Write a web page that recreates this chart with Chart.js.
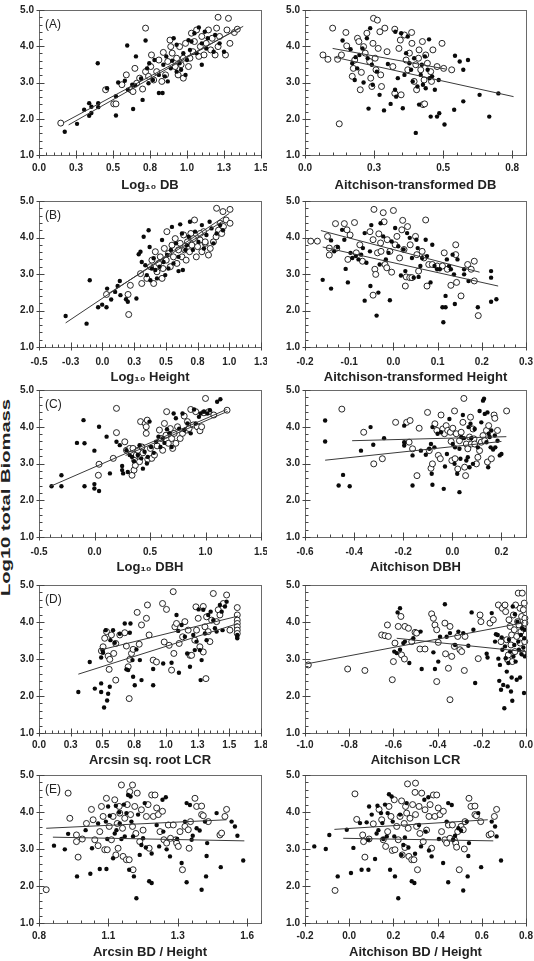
<!DOCTYPE html>
<html>
<head>
<meta charset="utf-8">
<title>Log10 total biomass vs. predictors</title>
<script src="https://cdn.jsdelivr.net/npm/chart.js@4.4.1/dist/chart.umd.min.js"></script>
<style>
  body { margin: 0; background: #fff; width: 534px; height: 961px; position: relative; overflow: hidden; }
  canvas { position: absolute; }
  #ytitle {
    position: absolute; left: -95px; top: 490px; width: 200px; line-height: 14px;
    text-align: center; font: bold 13px "Liberation Sans", Arial, sans-serif; color: #222;
    transform: rotate(-90deg) scaleX(1.55);
  }
</style>
</head>
<body>
<div id="ytitle">Log10 total Biomass</div>
<canvas id="aLeft"></canvas><canvas id="aRight"></canvas>
<canvas id="bLeft"></canvas><canvas id="bRight"></canvas>
<canvas id="cLeft"></canvas><canvas id="cRight"></canvas>
<canvas id="dLeft"></canvas><canvas id="dRight"></canvas>
<canvas id="eLeft"></canvas><canvas id="eRight"></canvas>
<script>
// ---- shared y axis ----
const yTicks = [1, 2, 3, 4, 5];
const yTickLabels = ['1.0', '2.0', '3.0', '4.0', '5.0'];

// ---- (A) Log10 DB ----
const dbTicks = [0, 0.25, 0.5, 0.75, 1, 1.25, 1.5];
const dbTickLabels = ['0.0', '0.3', '0.5', '0.8', '1.0', '1.3', '1.5'];
const dbFilled = [[0.174,1.64],[0.257,1.86],[0.305,2.25],[0.339,2.43],[0.339,2.08],[0.354,2.16],[0.354,2.33],[0.40,2.43],[0.40,2.32],[0.397,3.53],[0.46,2.84],[0.52,2.09],[0.535,3.0],[0.52,2.62],[0.596,4.02],[0.58,3.05],[0.60,2.80],[0.63,2.94],[0.636,2.27],[0.655,3.72],[0.65,2.92],[0.70,2.52],[0.69,3.11],[0.72,4.16],[0.73,3.39],[0.74,2.98],[0.745,3.53],[0.77,3.07],[0.78,3.62],[0.81,3.21],[0.81,2.71],[0.835,2.71],[0.84,3.49],[0.85,3.17],[0.86,3.72],[0.87,3.03],[0.89,3.39],[0.90,3.60],[0.93,4.04],[0.93,3.30],[0.95,3.53],[0.96,3.35],[0.975,3.81],[0.99,3.21],[1.0,3.62],[1.02,3.9],[1.03,4.13],[1.05,4.36],[1.065,3.81],[1.08,4.52],[1.10,3.49],[1.10,4.08],[1.12,4.40],[1.13,3.94],[1.14,4.22],[1.18,3.85],[1.19,4.31],[1.22,4.08],[1.25,3.85],[1.01,4.17],[0.91,4.22]];
const dbOpen = [[0.147,1.88],[0.45,2.80],[0.505,2.41],[0.52,2.41],[0.59,3.21],[0.56,2.94],[0.62,2.80],[0.635,2.75],[0.648,3.39],[0.66,2.98],[0.68,3.12],[0.72,4.50],[0.70,2.82],[0.72,3.30],[0.74,3.17],[0.755,3.44],[0.76,3.76],[0.775,3.07],[0.795,3.30],[0.81,3.62],[0.83,3.03],[0.84,3.83],[0.855,3.21],[0.87,3.58],[0.885,4.17],[0.89,3.99],[0.90,3.81],[0.92,3.44],[0.93,3.67],[0.95,3.99],[0.96,3.49],[0.975,3.67],[0.99,4.08],[1.01,3.44],[1.02,3.67],[1.03,4.36],[1.04,3.85],[1.05,4.13],[1.065,4.45],[1.08,3.72],[1.09,3.99],[1.10,4.27],[1.115,3.76],[1.13,4.08],[1.145,4.45],[1.16,3.90],[1.17,4.22],[1.19,3.76],[1.20,4.50],[1.21,3.99],[1.22,4.27],[1.21,4.80],[1.28,4.77],[1.29,4.08],[1.27,4.45],[1.32,4.38],[1.34,4.47],[1.26,3.76],[0.975,3.12],[0.94,3.21]];
const dbLines = [[[0.17,1.90],[1.38,4.55]], [[0.20,1.83],[1.35,4.50]]];

// ---- Aitchison-transformed DB ----
const aitDbTicks = [0, 0.25, 0.5, 0.75];
const aitDbTickLabels = ['0.0', '0.3', '0.5', '0.8'];
const aitDbFilled = [[0.136,4.16],[0.165,3.92],[0.171,3.53],[0.18,3.07],[0.183,3.70],[0.189,3.39],[0.197,3.76],[0.208,3.94],[0.212,3.0],[0.224,4.22],[0.227,3.67],[0.23,2.28],[0.236,4.50],[0.242,3.49],[0.245,2.94],[0.26,3.30],[0.27,2.66],[0.286,2.23],[0.30,3.51],[0.31,2.41],[0.326,2.80],[0.327,4.40],[0.33,2.61],[0.336,3.12],[0.348,4.36],[0.354,2.29],[0.36,3.21],[0.366,3.81],[0.372,4.27],[0.378,3.53],[0.384,3.35],[0.39,3.03],[0.395,3.67],[0.401,1.61],[0.407,2.89],[0.413,2.39],[0.419,3.21],[0.423,3.49],[0.427,2.94],[0.434,3.72],[0.437,2.84],[0.444,3.35],[0.449,4.19],[0.451,3.12],[0.455,2.06],[0.46,3.17],[0.47,2.80],[0.478,2.06],[0.486,2.15],[0.505,1.84],[0.484,3.07],[0.543,3.74],[0.54,2.25],[0.56,3.58],[0.573,3.35],[0.573,2.48],[0.59,3.62],[0.632,2.66],[0.667,2.06],[0.70,2.70]];
const aitDbOpen = [[0.10,4.50],[0.124,1.86],[0.118,3.64],[0.132,3.76],[0.148,4.38],[0.151,4.01],[0.171,3.17],[0.175,3.39],[0.18,3.62],[0.19,4.22],[0.195,4.13],[0.20,2.80],[0.204,3.28],[0.212,3.99],[0.218,3.81],[0.224,4.36],[0.234,3.58],[0.238,3.12],[0.242,2.89],[0.246,4.08],[0.248,4.77],[0.254,3.67],[0.257,3.35],[0.262,4.72],[0.265,3.94],[0.271,4.40],[0.274,3.21],[0.277,2.89],[0.289,4.50],[0.297,3.85],[0.318,3.44],[0.325,2.70],[0.325,4.47],[0.34,3.94],[0.345,4.17],[0.348,2.66],[0.36,4.31],[0.366,3.62],[0.372,3.35],[0.378,3.81],[0.386,4.38],[0.387,4.08],[0.395,3.03],[0.401,3.49],[0.404,2.80],[0.411,3.67],[0.413,3.90],[0.419,3.35],[0.425,4.13],[0.427,2.39],[0.433,2.41],[0.431,3.07],[0.437,3.76],[0.443,3.53],[0.455,3.30],[0.458,3.03],[0.463,3.90],[0.478,3.44],[0.496,4.08],[0.502,3.39],[0.531,3.35],[0.065,3.76],[0.083,3.64]];
const aitDbLines = [[[0.10,3.94],[0.51,3.37]], [[0.106,3.70],[0.755,2.61]]];

// ---- (B) Log10 Height ----
const htTicks = [-0.5, -0.25, 0, 0.25, 0.5, 0.75, 1, 1.25];
const htTickLabels = ['-0.5', '-0.3', '0.0', '0.3', '0.5', '0.8', '1.0', '1.3'];
const htFilled = [[-0.29,1.85],[-0.125,1.64],[-0.10,2.83],[-0.034,2.09],[-0.002,2.16],[0.032,2.09],[0.037,2.60],[0.069,2.30],[0.10,2.51],[0.12,2.67],[0.137,2.81],[0.142,2.42],[0.186,2.31],[0.20,2.24],[0.268,2.33],[0.286,3.54],[0.30,3.61],[0.31,3.33],[0.325,4.02],[0.338,3.24],[0.35,2.97],[0.364,4.20],[0.372,3.74],[0.378,2.83],[0.39,3.15],[0.404,3.43],[0.417,3.11],[0.43,2.88],[0.45,3.20],[0.47,3.93],[0.482,3.33],[0.495,2.97],[0.51,3.52],[0.52,3.15],[0.54,3.66],[0.548,4.29],[0.56,3.29],[0.58,3.84],[0.60,3.47],[0.613,4.36],[0.627,4.11],[0.634,3.11],[0.653,3.66],[0.666,3.79],[0.68,4.02],[0.69,4.43],[0.713,3.66],[0.73,4.16],[0.757,3.88],[0.784,4.34],[0.80,3.70],[0.82,4.07],[0.845,4.43],[0.86,4.25],[0.875,3.84],[0.90,4.11],[0.928,4.34],[0.95,4.20],[0.60,3.08]];
const htOpen = [[0.207,1.89],[0.032,2.44],[0.202,2.44],[0.22,2.69],[0.30,3.01],[0.31,2.74],[0.35,2.88],[0.378,3.20],[0.39,3.38],[0.404,2.74],[0.417,3.61],[0.43,3.06],[0.443,3.29],[0.456,3.47],[0.47,2.88],[0.477,3.15],[0.488,3.70],[0.503,3.38],[0.508,4.16],[0.52,3.56],[0.535,3.20],[0.548,3.79],[0.56,3.47],[0.574,3.97],[0.587,3.29],[0.60,3.66],[0.613,3.84],[0.627,3.47],[0.64,4.07],[0.648,3.66],[0.66,3.38],[0.67,3.88],[0.687,3.61],[0.697,4.11],[0.705,3.79],[0.718,3.97],[0.726,4.48],[0.74,3.47],[0.75,3.75],[0.77,3.93],[0.784,3.61],[0.797,4.16],[0.81,3.84],[0.836,3.52],[0.85,3.70],[0.875,3.88],[0.896,4.02],[0.915,4.20],[0.928,4.39],[0.94,4.11],[0.954,4.30],[0.975,4.48],[1.006,4.39],[0.90,4.80],[0.95,4.71],[1.006,4.77],[0.81,3.88],[0.77,4.11]];
const htLines = [[[-0.29,1.66],[1.0,4.66]], [[0.05,2.47],[0.95,4.45]]];

// ---- Aitchison-transformed Height ----
const aitHtTicks = [-0.2, -0.1, 0, 0.1, 0.2, 0.3];
const aitHtTickLabels = ['-0.2', '-0.1', '0.0', '0.1', '0.2', '0.3'];
const aitHtFilled = [[-0.16,2.84],[-0.141,2.60],[-0.141,3.92],[-0.134,3.62],[-0.126,3.74],[-0.116,4.21],[-0.111,3.94],[-0.108,3.14],[-0.103,2.77],[-0.097,3.58],[-0.093,3.44],[-0.085,3.49],[-0.079,3.40],[-0.073,3.53],[-0.069,3.71],[-0.065,4.12],[-0.065,2.27],[-0.061,3.31],[-0.053,3.62],[-0.052,2.67],[-0.05,4.34],[-0.038,1.86],[-0.034,2.49],[-0.031,3.26],[-0.029,4.39],[-0.023,4.03],[-0.017,3.40],[-0.011,3.58],[-0.008,2.28],[-0.004,3.89],[0.004,4.26],[0.011,3.76],[0.017,2.96],[0.023,3.67],[0.027,3.08],[0.031,4.12],[0.037,3.99],[0.042,3.44],[0.046,2.90],[0.052,3.94],[0.055,3.71],[0.057,2.92],[0.061,3.22],[0.065,3.44],[0.073,3.94],[0.076,3.49],[0.084,2.77],[0.088,3.80],[0.093,3.22],[0.099,3.13],[0.105,3.13],[0.111,2.09],[0.113,1.68],[0.118,2.40],[0.118,2.09],[0.121,3.40],[0.126,3.22],[0.13,3.13],[0.134,3.53],[0.137,2.99],[0.139,2.18],[0.145,3.40],[0.16,2.99],[0.16,3.13],[0.17,2.81],[0.191,2.09],[0.221,3.08],[0.221,2.90],[0.221,2.24],[0.233,2.31]];
const aitHtOpen = [[-0.187,3.90],[-0.172,3.90],[-0.149,4.03],[-0.145,3.71],[-0.131,4.38],[-0.145,3.52],[-0.128,3.71],[-0.111,4.38],[-0.105,4.21],[-0.103,3.40],[-0.098,4.07],[-0.088,4.41],[-0.084,3.58],[-0.076,3.80],[-0.07,3.35],[-0.053,4.16],[-0.046,2.42],[-0.046,3.94],[-0.044,4.77],[-0.042,3.13],[-0.04,2.99],[-0.036,3.58],[-0.033,4.10],[-0.029,3.85],[-0.028,3.62],[-0.023,4.68],[-0.021,4.43],[-0.019,3.26],[-0.015,3.17],[-0.014,3.94],[-0.008,3.62],[-0.004,3.05],[0.0,4.74],[0.004,3.80],[0.008,4.03],[0.014,3.44],[0.019,4.21],[0.021,4.47],[0.024,3.67],[0.027,2.67],[0.029,2.92],[0.032,4.30],[0.037,2.90],[0.038,3.80],[0.042,2.90],[0.05,4.03],[0.053,3.53],[0.057,3.08],[0.065,3.62],[0.069,3.44],[0.073,4.48],[0.076,2.67],[0.08,3.26],[0.088,3.26],[0.099,3.22],[0.111,3.22],[0.115,3.58],[0.122,3.13],[0.13,2.69],[0.141,3.80],[0.141,3.53],[0.143,2.77],[0.153,2.40],[0.168,3.26],[0.176,3.13],[0.183,3.35],[0.192,1.86],[0.183,2.81]];
const aitHtLines = [[[-0.164,4.19],[0.195,3.05]], [[-0.16,3.74],[0.237,2.67]]];

// ---- (C) Log10 DBH ----
const dbhTicks = [-0.5, 0, 0.5, 1, 1.5];
const dbhTickLabels = ['-0.5', '0.0', '0.5', '1.0', '1.5'];
const dbhFilled = [[-0.387,2.38],[-0.298,2.68],[-0.298,2.38],[-0.158,3.56],[-0.099,4.18],[-0.09,3.55],[-0.09,2.38],[-0.001,3.35],[-0.001,2.44],[-0.001,2.32],[0.041,4.0],[0.041,2.25],[0.109,3.73],[0.139,2.73],[0.198,3.59],[0.228,3.50],[0.249,2.93],[0.249,2.82],[0.258,2.73],[0.288,3.36],[0.30,2.77],[0.317,3.23],[0.338,3.18],[0.356,3.06],[0.39,3.23],[0.406,3.50],[0.421,3.14],[0.436,2.86],[0.451,3.32],[0.472,3.0],[0.48,3.18],[0.496,4.14],[0.51,3.45],[0.534,3.29],[0.555,3.59],[0.576,3.73],[0.594,3.45],[0.614,3.68],[0.63,3.56],[0.653,3.93],[0.674,3.82],[0.695,3.45],[0.713,4.36],[0.733,4.23],[0.763,3.95],[0.793,4.36],[0.808,3.91],[0.837,4.09],[0.867,3.82],[0.897,4.47],[0.912,4.09],[0.941,4.27],[0.956,4.36],[0.986,4.41],[1.016,4.36],[1.04,4.45],[1.105,4.68],[1.134,4.75]];
const dbhOpen = [[0.035,2.68],[0.041,2.98],[0.198,4.50],[0.198,3.84],[0.169,3.14],[0.273,3.59],[0.288,3.36],[0.317,3.41],[0.338,2.68],[0.347,3.41],[0.356,2.82],[0.362,3.09],[0.368,2.95],[0.377,3.23],[0.392,3.36],[0.406,3.05],[0.415,4.14],[0.427,3.45],[0.436,3.29],[0.457,4.09],[0.466,4.0],[0.466,3.82],[0.475,4.18],[0.48,3.11],[0.504,3.41],[0.516,3.14],[0.54,3.23],[0.564,3.48],[0.585,3.91],[0.60,3.68],[0.614,3.36],[0.63,4.09],[0.644,3.77],[0.65,4.41],[0.665,3.55],[0.683,3.95],[0.695,3.68],[0.704,3.41],[0.718,3.82],[0.733,3.55],[0.748,4.0],[0.772,3.68],[0.793,3.82],[0.808,4.29],[0.831,3.91],[0.852,3.95],[0.867,4.47],[0.89,4.05],[0.912,4.41],[0.926,4.0],[0.95,3.89],[0.965,4.0],[1.0,4.77],[0.986,4.38],[1.03,4.41],[1.075,4.32],[1.194,4.45],[0.837,4.14]];
const dbhLines = [[[-0.396,2.38],[1.19,4.47]], [[0.28,3.22],[1.2,4.42]]];

// ---- Aitchison DBH ----
const aitDbhTicks = [-0.6, -0.4, -0.2, 0, 0.2];
const aitDbhTickLabels = ['-0.6', '-0.4', '-0.2', '0.0', '0.2'];
const aitDbhFilled = [[-0.518,4.17],[-0.518,3.60],[-0.463,2.40],[-0.445,2.69],[-0.418,2.38],[-0.372,3.35],[-0.333,3.99],[-0.322,3.51],[-0.278,3.69],[-0.196,4.03],[-0.196,3.58],[-0.196,3.49],[-0.162,2.40],[-0.162,3.22],[-0.128,3.35],[-0.108,3.24],[-0.094,3.40],[-0.087,3.53],[-0.084,2.72],[-0.081,2.42],[-0.081,3.99],[-0.073,3.44],[-0.06,3.81],[-0.046,3.85],[-0.035,2.31],[-0.03,2.92],[-0.022,3.26],[-0.012,4.21],[0.002,3.53],[0.009,2.99],[0.011,3.44],[0.02,2.72],[0.029,2.22],[0.029,3.40],[0.033,3.13],[0.036,3.72],[0.043,4.32],[0.047,3.69],[0.057,3.08],[0.063,3.17],[0.066,3.99],[0.07,2.90],[0.074,4.08],[0.077,3.69],[0.084,2.99],[0.091,3.94],[0.104,3.44],[0.111,4.43],[0.118,4.12],[0.125,4.71],[0.129,4.76],[0.132,4.35],[0.139,3.58],[0.143,4.39],[0.146,2.90],[0.148,3.81],[0.152,3.72],[0.156,3.44],[0.159,3.90],[0.166,3.38],[0.173,3.76],[0.175,3.44],[0.184,3.62],[0.193,3.22],[0.20,3.26]];
const aitDbhOpen = [[-0.45,4.48],[-0.361,3.85],[-0.32,2.99],[-0.285,3.13],[-0.231,4.12],[-0.186,4.12],[-0.176,3.58],[-0.172,4.17],[-0.144,2.67],[-0.162,3.40],[-0.135,3.96],[-0.101,4.39],[-0.094,3.35],[-0.087,2.87],[-0.081,2.99],[-0.071,4.08],[-0.063,3.90],[-0.057,3.22],[-0.049,3.13],[-0.046,4.32],[-0.039,3.94],[-0.032,3.81],[-0.025,4.03],[-0.019,3.90],[-0.008,3.85],[-0.005,3.60],[-0.002,3.08],[0.002,3.96],[0.009,4.43],[0.011,3.13],[0.016,3.81],[0.022,2.85],[0.029,3.62],[0.036,3.85],[0.043,4.12],[0.047,4.77],[0.05,2.90],[0.054,2.67],[0.057,3.53],[0.063,3.40],[0.07,3.72],[0.074,4.26],[0.077,3.53],[0.084,3.94],[0.088,3.67],[0.091,3.53],[0.098,2.99],[0.104,3.17],[0.111,3.35],[0.118,3.58],[0.125,3.76],[0.132,3.62],[0.139,3.90],[0.143,3.04],[0.148,4.03],[0.159,3.13],[0.17,4.32],[0.173,4.23],[0.184,3.90],[0.221,4.43]];
const aitDbhLines = [[[-0.408,3.62],[0.22,3.73]], [[-0.518,3.09],[0.20,3.60]]];

// ---- (D) Arcsin sq. root LCR ----
const lcrTicks = [0, 0.25, 0.5, 0.75, 1, 1.25, 1.5, 1.75];
const lcrTickLabels = ['0.0', '0.3', '0.5', '0.8', '1.0', '1.3', '1.5', '1.8'];
const lcrFilled = [[0.31,2.11],[0.40,2.92],[0.44,2.20],[0.49,2.11],[0.49,2.34],[0.49,3.04],[0.50,3.24],[0.505,3.17],[0.513,1.69],[0.526,3.78],[0.537,1.88],[0.545,2.06],[0.558,2.25],[0.563,3.51],[0.584,3.78],[0.597,3.44],[0.637,3.68],[0.676,3.96],[0.689,2.72],[0.703,2.70],[0.716,3.71],[0.721,3.96],[0.737,2.97],[0.742,2.52],[0.755,2.29],[0.768,3.26],[0.795,2.97],[0.808,2.43],[0.90,2.73],[0.90,2.29],[0.979,2.88],[1.045,2.90],[1.084,4.19],[1.097,3.76],[1.103,2.63],[1.124,3.92],[1.15,3.60],[1.168,3.15],[1.19,2.79],[1.216,3.65],[1.228,3.24],[1.242,3.47],[1.258,4.34],[1.268,3.24],[1.274,2.43],[1.282,2.97],[1.295,4.33],[1.308,3.69],[1.321,3.51],[1.334,4.19],[1.353,4.28],[1.374,4.05],[1.387,3.83],[1.40,3.74],[1.426,4.46],[1.44,4.28],[1.447,3.78],[1.466,4.42],[1.479,4.55],[1.563,3.65],[1.563,3.60],[1.563,3.56]];
const lcrOpen = [[0.492,3.22],[0.505,3.33],[0.518,3.56],[0.532,3.74],[0.545,3.08],[0.553,2.72],[0.558,2.99],[0.571,3.65],[0.589,3.15],[0.605,3.42],[0.605,2.43],[0.637,3.65],[0.676,3.71],[0.689,3.35],[0.703,2.79],[0.711,1.93],[0.716,2.99],[0.729,3.15],[0.742,3.26],[0.774,4.26],[0.79,3.40],[0.808,3.92],[0.847,4.10],[0.855,4.46],[0.868,3.65],[0.90,2.97],[0.926,2.92],[0.974,4.50],[0.987,3.46],[1.005,4.34],[1.026,3.37],[1.045,2.70],[1.058,4.82],[1.063,3.15],[1.071,3.87],[1.084,3.96],[1.105,3.42],[1.132,3.60],[1.15,4.01],[1.176,3.78],[1.19,3.10],[1.203,3.10],[1.228,3.51],[1.237,4.41],[1.242,3.78],[1.255,4.10],[1.268,3.33],[1.295,4.42],[1.295,3.19],[1.308,3.87],[1.321,4.14],[1.316,2.47],[1.334,3.74],[1.347,3.47],[1.361,4.05],[1.374,4.77],[1.40,4.01],[1.413,4.33],[1.426,4.19],[1.453,4.50],[1.479,4.73],[1.505,3.78],[1.563,4.39],[1.563,4.19],[1.563,4.05],[1.563,3.96],[1.563,3.87],[1.563,3.78],[1.563,3.69]];
const lcrLines = [[[0.48,3.24],[1.57,4.16]], [[0.31,2.59],[1.57,3.96]]];

// ---- Aitchison LCR ----
const aitLcrTicks = [-1, -0.8, -0.6, -0.4, -0.2, 0];
const aitLcrTickLabels = ['-1.0', '-0.8', '-0.6', '-0.4', '-0.2', '0.0'];
const aitLcrFilled = [[-0.596,3.20],[-0.585,3.16],[-0.581,4.26],[-0.57,4.37],[-0.57,3.25],[-0.555,3.43],[-0.548,3.47],[-0.528,2.89],[-0.51,3.56],[-0.477,3.74],[-0.472,2.73],[-0.419,3.18],[-0.412,2.73],[-0.397,2.93],[-0.389,3.60],[-0.367,4.48],[-0.359,3.60],[-0.344,3.70],[-0.321,3.38],[-0.306,3.74],[-0.284,3.70],[-0.261,3.36],[-0.246,4.26],[-0.238,3.79],[-0.23,2.35],[-0.178,3.14],[-0.174,3.04],[-0.155,4.24],[-0.14,3.47],[-0.136,3.67],[-0.128,3.65],[-0.125,3.01],[-0.121,2.41],[-0.118,2.84],[-0.113,2.17],[-0.11,3.58],[-0.107,3.25],[-0.103,2.30],[-0.098,1.67],[-0.095,3.34],[-0.092,3.02],[-0.087,2.66],[-0.083,2.26],[-0.08,2.89],[-0.077,3.52],[-0.072,3.20],[-0.068,2.12],[-0.065,2.50],[-0.062,1.87],[-0.06,4.42],[-0.057,3.07],[-0.053,3.38],[-0.05,4.21],[-0.047,2.93],[-0.042,2.44],[-0.039,4.01],[-0.035,3.47],[-0.032,3.25],[-0.027,2.50],[-0.023,3.65],[-0.02,3.13],[-0.017,3.83],[-0.012,3.31],[-0.009,2.08],[-0.008,3.56],[-0.005,3.07],[-0.005,3.79]];
const aitLcrOpen = [[-0.985,2.84],[-0.807,2.73],[-0.729,2.69],[-0.653,3.65],[-0.638,3.63],[-0.623,3.61],[-0.627,3.92],[-0.605,2.44],[-0.60,2.93],[-0.593,3.43],[-0.578,3.88],[-0.566,4.15],[-0.563,3.11],[-0.55,3.00],[-0.548,3.88],[-0.532,3.83],[-0.517,3.47],[-0.502,3.72],[-0.495,3.70],[-0.48,3.27],[-0.457,3.27],[-0.427,4.22],[-0.419,4.10],[-0.412,3.92],[-0.404,2.39],[-0.404,3.79],[-0.397,3.45],[-0.367,3.97],[-0.364,3.14],[-0.351,2.75],[-0.344,1.90],[-0.344,3.88],[-0.336,3.07],[-0.324,3.34],[-0.309,3.61],[-0.299,3.25],[-0.291,3.20],[-0.279,2.69],[-0.276,3.61],[-0.216,3.01],[-0.208,4.19],[-0.204,4.01],[-0.163,3.97],[-0.148,4.06],[-0.125,4.46],[-0.113,3.47],[-0.107,4.37],[-0.095,4.46],[-0.092,4.28],[-0.087,3.52],[-0.083,2.98],[-0.08,3.11],[-0.077,4.06],[-0.072,3.88],[-0.068,3.38],[-0.065,3.65],[-0.062,2.93],[-0.057,4.19],[-0.053,3.79],[-0.05,3.20],[-0.047,4.46],[-0.042,3.61],[-0.038,4.01],[-0.035,4.78],[-0.032,3.92],[-0.027,4.37],[-0.026,3.43],[-0.023,3.74],[-0.02,4.15],[-0.017,4.78],[-0.014,3.16],[-0.012,4.33],[-0.011,3.83],[-0.008,4.51],[-0.006,3.47],[-0.005,4.10],[-0.005,3.97]];
const aitLcrLines = [[[-1.0,2.86],[-0.01,3.98]], [[-0.585,3.56],[-0.005,3.20]]];

// ---- (E) Arcsin BD / Height ----
const bdhTicks = [0.8, 1.05, 1.3, 1.55];
const bdhTickLabels = ['0.8', '1.1', '1.3', '1.6'];
const bdhFilled = [[0.854,3.09],[0.893,2.99],[0.905,3.41],[0.937,2.26],[0.968,3.51],[0.985,2.33],[0.991,3.02],[1.019,2.46],[1.013,3.69],[1.041,3.74],[1.043,2.46],[1.046,3.27],[1.049,4.15],[1.055,3.90],[1.067,2.75],[1.073,3.42],[1.077,4.17],[1.079,3.51],[1.089,3.99],[1.091,3.69],[1.097,3.27],[1.106,4.20],[1.109,3.34],[1.115,3.97],[1.121,4.46],[1.125,2.44],[1.13,4.42],[1.133,3.74],[1.139,3.34],[1.142,2.26],[1.151,1.67],[1.157,3.93],[1.163,2.84],[1.169,3.11],[1.175,3.29],[1.181,4.24],[1.185,3.04],[1.197,2.13],[1.206,2.08],[1.206,2.88],[1.224,3.65],[1.233,3.07],[1.245,4.33],[1.248,3.47],[1.257,4.40],[1.26,2.99],[1.272,2.80],[1.298,3.27],[1.314,2.62],[1.326,3.74],[1.332,2.10],[1.332,4.24],[1.344,4.19],[1.35,3.25],[1.354,3.36],[1.368,3.56],[1.379,3.50],[1.386,1.90],[1.398,3.74],[1.402,2.26],[1.404,2.81],[1.406,3.16],[1.455,2.51],[1.44,3.97],[1.494,3.74],[1.506,3.61],[1.515,3.36],[1.536,2.69]];
const bdhOpen = [[0.826,1.90],[0.905,4.51],[0.911,3.83],[0.935,3.38],[0.935,3.20],[0.941,2.78],[0.956,3.27],[0.971,3.69],[0.989,4.07],[0.995,3.79],[1.001,3.25],[1.013,3.09],[1.019,3.47],[1.025,4.15],[1.031,3.88],[1.037,2.98],[1.043,4.37],[1.046,2.98],[1.053,3.61],[1.061,3.25],[1.067,3.88],[1.073,4.33],[1.077,2.84],[1.082,3.69],[1.085,3.02],[1.089,4.15],[1.091,3.97],[1.097,4.73],[1.101,3.56],[1.103,2.80],[1.109,3.83],[1.115,2.71],[1.118,4.20],[1.125,2.71],[1.127,4.55],[1.13,3.93],[1.137,4.73],[1.137,3.61],[1.139,2.44],[1.145,4.15],[1.149,3.42],[1.154,4.51],[1.163,3.20],[1.169,4.06],[1.175,3.51],[1.187,3.88],[1.193,4.20],[1.197,3.02],[1.206,4.46],[1.212,3.88],[1.218,4.46],[1.224,4.11],[1.23,3.93],[1.236,3.47],[1.245,4.02],[1.25,3.25],[1.26,3.16],[1.266,3.65],[1.274,3.29],[1.284,3.65],[1.293,3.25],[1.296,3.16],[1.302,3.07],[1.308,3.47],[1.317,2.44],[1.326,3.61],[1.338,3.52],[1.341,3.02],[1.346,3.74],[1.362,4.37],[1.368,4.15],[1.386,4.16],[1.386,3.93],[1.392,3.90],[1.41,3.74],[1.452,3.38],[1.458,3.43],[1.47,3.88],[1.476,4.07]];
const bdhLines = [[[0.826,3.56],[1.476,3.79]], [[0.85,3.32],[1.54,3.22]]];

// ---- Aitchison BD / Height ----
const aitBdhTicks = [-0.2, 0, 0.2, 0.4, 0.6, 0.8];
const aitBdhTickLabels = ['-0.2', '0.0', '0.2', '0.4', '0.6', '0.8'];
const aitBdhFilled = [[-0.158,3.07],[-0.106,3.0],[-0.09,3.38],[-0.052,2.26],[-0.011,3.52],[0.008,2.35],[0.019,3.03],[0.056,2.44],[0.049,3.70],[0.079,3.72],[0.087,2.44],[0.087,3.25],[0.09,4.15],[0.102,3.93],[0.117,2.73],[0.124,3.42],[0.128,4.17],[0.132,3.51],[0.144,3.97],[0.15,3.70],[0.154,3.27],[0.162,4.20],[0.17,3.34],[0.174,3.97],[0.18,4.48],[0.185,2.44],[0.192,4.42],[0.197,3.74],[0.204,3.34],[0.207,2.26],[0.222,1.67],[0.23,3.93],[0.237,2.84],[0.245,3.11],[0.252,3.31],[0.26,4.24],[0.268,3.04],[0.283,2.13],[0.295,2.08],[0.298,2.87],[0.316,3.65],[0.325,3.07],[0.34,4.33],[0.346,3.47],[0.358,4.40],[0.361,2.96],[0.373,2.80],[0.406,3.27],[0.425,2.62],[0.441,3.74],[0.448,2.10],[0.448,4.24],[0.464,4.19],[0.471,3.25],[0.479,3.36],[0.494,3.56],[0.506,3.50],[0.516,1.88],[0.532,3.74],[0.536,2.26],[0.539,2.81],[0.542,3.16],[0.597,2.51],[0.584,3.97],[0.645,3.74],[0.66,3.61],[0.667,3.34],[0.687,2.69]];
const aitBdhOpen = [[-0.064,1.88],[0.026,4.49],[0.034,3.80],[0.061,3.38],[0.065,3.20],[0.071,2.78],[0.09,3.27],[0.109,3.68],[0.135,4.07],[0.147,3.79],[0.154,3.25],[0.165,3.07],[0.174,3.47],[0.18,4.15],[0.189,3.88],[0.195,2.96],[0.204,4.33],[0.207,2.98],[0.215,3.61],[0.222,3.25],[0.23,3.88],[0.237,4.30],[0.24,2.84],[0.249,3.69],[0.252,3.04],[0.255,4.15],[0.26,3.97],[0.264,4.76],[0.267,3.56],[0.27,2.80],[0.275,3.83],[0.283,2.71],[0.287,4.20],[0.293,2.71],[0.298,4.53],[0.30,3.93],[0.30,4.78],[0.305,3.61],[0.309,2.44],[0.316,4.15],[0.32,3.42],[0.328,4.51],[0.335,3.20],[0.343,4.06],[0.35,3.51],[0.361,3.88],[0.366,4.20],[0.373,3.02],[0.381,4.46],[0.388,3.88],[0.396,4.46],[0.403,4.11],[0.411,3.93],[0.418,3.47],[0.426,4.02],[0.433,3.25],[0.441,3.16],[0.449,3.65],[0.456,3.29],[0.467,3.65],[0.476,3.25],[0.482,3.16],[0.486,3.05],[0.491,3.47],[0.498,2.44],[0.506,3.61],[0.516,3.52],[0.521,3.00],[0.524,3.74],[0.542,4.37],[0.551,4.15],[0.569,4.16],[0.569,3.93],[0.576,3.90],[0.595,3.74],[0.633,3.38],[0.642,3.41],[0.657,3.88],[0.667,4.07]];
const aitBdhLines = [[[-0.067,3.53],[0.627,3.79]], [[-0.027,3.29],[0.652,3.22]]];

// ---- layout: rows (canvas top/height, plot edges, label & title centres) ----
const rows = {
  A: { top: 0,   h: 193, plotTop: 10,  plotBottom: 155, label: 168, title: 185 },
  B: { top: 191, h: 194, plotTop: 201, plotBottom: 347, label: 362, title: 377 },
  C: { top: 380, h: 195, plotTop: 390, plotBottom: 537, label: 552, title: 567 },
  D: { top: 575, h: 193, plotTop: 585, plotBottom: 733, label: 745, title: 760 },
  E: { top: 765, h: 195, plotTop: 775, plotBottom: 923, label: 936, title: 952 }
};
const cols = {
  left:  { left: 0,   w: 267, axisW: 39, padRight: 6 },
  right: { left: 267, w: 267, axisW: 38, padRight: 8 }
};

const FONT = '"Liberation Sans", Arial, Helvetica, sans-serif';
Chart.defaults.font.family = FONT;
Chart.defaults.color = '#222';

// frame, inward minor ticks and the panel letter
const framePlugin = {
  id: 'frame',
  afterDatasetsDraw(chart, args, opts) {
    const { ctx, chartArea: a, scales: { x, y } } = chart;
    ctx.save();
    ctx.strokeStyle = '#6a6a6a';
    ctx.lineWidth = 1;
    ctx.strokeRect(Math.round(a.left) + 0.5, Math.round(a.top) + 0.5,
                   Math.round(a.right - a.left), Math.round(a.bottom - a.top));
    ctx.strokeStyle = '#444';
    ctx.beginPath();
    const xb = Math.round(a.bottom) + 0.5;
    const nx = Math.round((x.max - x.min) / opts.xMinor);
    for (let i = 0; i <= nx; i++) {
      const px = Math.round(x.getPixelForValue(x.min + i * opts.xMinor)) + 0.5;
      ctx.moveTo(px, xb); ctx.lineTo(px, xb - 3);
    }
    opts.xMajor.forEach(v => {
      const px = Math.round(x.getPixelForValue(v)) + 0.5;
      ctx.moveTo(px, xb + 3); ctx.lineTo(px, xb - 5);
    });
    const yl = Math.round(a.left) + 0.5;
    const ny = Math.round((y.max - y.min) / 0.2);
    for (let i = 0; i <= ny; i++) {
      const py = Math.round(y.getPixelForValue(y.min + i * 0.2)) + 0.5;
      ctx.moveTo(yl, py); ctx.lineTo(yl + 3, py);
    }
    yTicks.forEach(v => {
      const py = Math.round(y.getPixelForValue(v)) + 0.5;
      ctx.moveTo(yl - 3, py); ctx.lineTo(yl + 5, py);
    });
    ctx.stroke();
    if (opts.letter) {
      ctx.fillStyle = '#222';
      ctx.font = '12px ' + FONT;
      ctx.textBaseline = 'top';
      ctx.fillText(opts.letter, a.left + 6, a.top + 9);
    }
    ctx.restore();
  }
};

const toXY = arr => arr.map(p => ({ x: p[0], y: p[1] }));

function makePanel(id, row, col, p) {
  const r = rows[row], c = cols[col];
  const canvas = document.getElementById(id);
  canvas.width = c.w;
  canvas.height = r.h;
  canvas.style.left = c.left + 'px';
  canvas.style.top = r.top + 'px';

  const xAxisH = r.h - (r.plotBottom - r.top);
  const datasets = [
    { data: toXY(p.open), pointRadius: 3, pointBackgroundColor: '#fff', pointBorderColor: '#111',
      pointBorderWidth: 0.9, order: 3, clip: false },
    { data: toXY(p.filled), pointRadius: 2.2, pointBackgroundColor: '#0a0a0a', pointBorderColor: '#0a0a0a',
      pointBorderWidth: 0, order: 2, clip: false }
  ];
  p.lines.forEach(l => datasets.push({
    data: toXY(l), showLine: true, borderColor: '#3a3a3a', borderWidth: 1,
    pointRadius: 0, order: 1
  }));

  return new Chart(canvas, {
    type: 'scatter',
    data: { datasets },
    options: {
      responsive: false,
      animation: false,
      devicePixelRatio: 1,
      layout: { padding: { left: 0, right: c.padRight, top: r.plotTop - r.top, bottom: 0 } },
      plugins: {
        legend: { display: false },
        tooltip: { enabled: false },
        frame: { xMinor: p.minor, xMajor: p.ticks, letter: p.letter }
      },
      scales: {
        x: {
          type: 'linear', min: p.min, max: p.max,
          grid: { display: false, drawTicks: false },
          border: { display: false },
          afterBuildTicks: s => { s.ticks = p.ticks.map(v => ({ value: v })); },
          afterFit: s => { s.height = xAxisH; s.paddingLeft = 0; s.paddingRight = 0; },
          ticks: {
            autoSkip: false, maxRotation: 0, padding: r.label - r.plotBottom - 6,
            font: { size: 10, weight: 'bold' },
            callback: (v, i) => p.labels[i]
          },
          title: {
            display: true, text: p.title, color: '#222',
            font: { size: 13, weight: 'bold' }, padding: { top: 0, bottom: 0 }
          }
        },
        y: {
          type: 'linear', min: 1, max: 5,
          grid: { display: false, drawTicks: false },
          border: { display: false },
          afterBuildTicks: s => { s.ticks = yTicks.map(v => ({ value: v })); },
          afterFit: s => { s.width = c.axisW; s.paddingTop = 0; s.paddingBottom = 0; },
          ticks: {
            autoSkip: false, padding: 5,
            font: { size: 10, weight: 'bold' },
            callback: (v, i) => yTickLabels[i]
          }
        }
      }
    },
    plugins: [framePlugin]
  });
}

makePanel('aLeft', 'A', 'left', { title: 'Log\u2081\u2080 DB', letter: '(A)', min: 0, max: 1.5, minor: 0.05,
  ticks: dbTicks, labels: dbTickLabels, filled: dbFilled, open: dbOpen, lines: dbLines });
makePanel('aRight', 'A', 'right', { title: 'Aitchison-transformed DB', min: 0, max: 0.8, minor: 0.05,
  ticks: aitDbTicks, labels: aitDbTickLabels, filled: aitDbFilled, open: aitDbOpen, lines: aitDbLines });
makePanel('bLeft', 'B', 'left', { title: 'Log\u2081\u2080 Height', letter: '(B)', min: -0.5, max: 1.25, minor: 0.05,
  ticks: htTicks, labels: htTickLabels, filled: htFilled, open: htOpen, lines: htLines });
makePanel('bRight', 'B', 'right', { title: 'Aitchison-transformed Height', min: -0.2, max: 0.3, minor: 0.025,
  ticks: aitHtTicks, labels: aitHtTickLabels, filled: aitHtFilled, open: aitHtOpen, lines: aitHtLines });
makePanel('cLeft', 'C', 'left', { title: 'Log\u2081\u2080 DBH', letter: '(C)', min: -0.5, max: 1.5, minor: 0.1,
  ticks: dbhTicks, labels: dbhTickLabels, filled: dbhFilled, open: dbhOpen, lines: dbhLines });
makePanel('cRight', 'C', 'right', { title: 'Aitchison DBH', min: -0.6, max: 0.3, minor: 0.05,
  ticks: aitDbhTicks, labels: aitDbhTickLabels, filled: aitDbhFilled, open: aitDbhOpen, lines: aitDbhLines });
makePanel('dLeft', 'D', 'left', { title: 'Arcsin sq. root LCR', letter: '(D)', min: 0, max: 1.75, minor: 0.05,
  ticks: lcrTicks, labels: lcrTickLabels, filled: lcrFilled, open: lcrOpen, lines: lcrLines });
makePanel('dRight', 'D', 'right', { title: 'Aitchison LCR', min: -1, max: 0, minor: 0.05,
  ticks: aitLcrTicks, labels: aitLcrTickLabels, filled: aitLcrFilled, open: aitLcrOpen, lines: aitLcrLines });
makePanel('eLeft', 'E', 'left', { title: 'Arcsin BD / Height', letter: '(E)', min: 0.8, max: 1.6, minor: 0.05,
  ticks: bdhTicks, labels: bdhTickLabels, filled: bdhFilled, open: bdhOpen, lines: bdhLines });
makePanel('eRight', 'E', 'right', { title: 'Aitchison BD / Height', min: -0.2, max: 0.8, minor: 0.05,
  ticks: aitBdhTicks, labels: aitBdhTickLabels, filled: aitBdhFilled, open: aitBdhOpen, lines: aitBdhLines });
</script>
</body>
</html>
